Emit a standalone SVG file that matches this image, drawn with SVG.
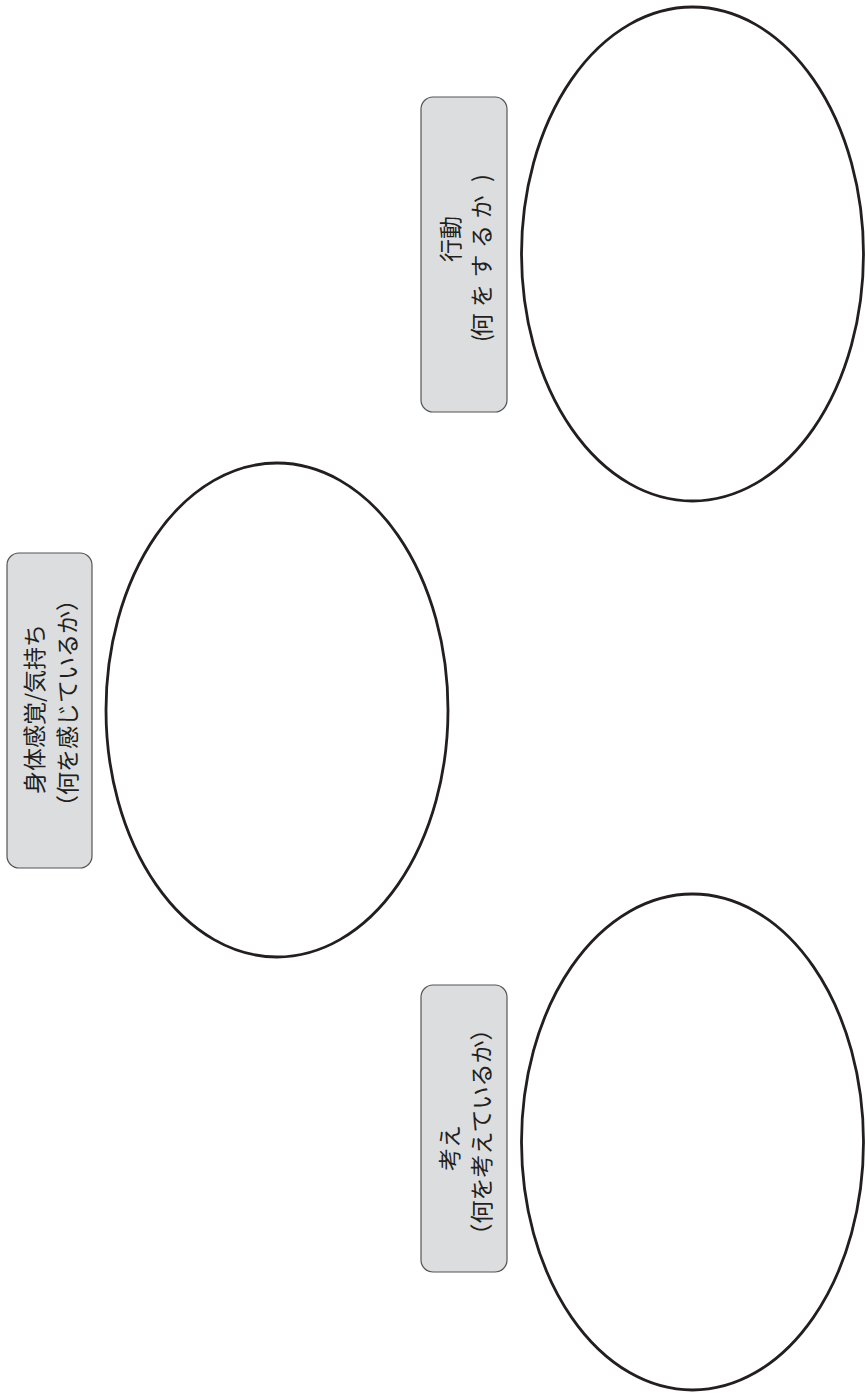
<svg xmlns="http://www.w3.org/2000/svg" width="866" height="1395" viewBox="0 0 866 1395">
<style>
.box{fill:#dcdddf;stroke:#555;stroke-width:1.2}
.ell{fill:#fff;stroke:#231f20;stroke-width:2.8}
.t{font-family:"Noto Sans CJK JP","Noto Sans",sans-serif;font-size:23px;fill:#231f20;text-anchor:middle;dominant-baseline:central}
</style>
<rect width="866" height="1395" fill="#fff"/>
<g id="connectors"></g>
<g id="node-action">
<rect class="box" x="421" y="97" width="86" height="315" rx="12"/>
<g transform="translate(464,254.5) rotate(-90)">
<text class="t" x="15.5" y="-15.5">行動</text>
<text class="t" x="-83.5 -70.5 -41 -11.5 18 47.5 76.5" y="16">(何をするか)</text>
</g>
</g>
<g id="ellipse-action"><ellipse class="ell" cx="692.5" cy="254" rx="171" ry="247"/></g>
<g id="node-feeling">
<rect class="box" x="7" y="553" width="85" height="315" rx="12"/>
<g transform="translate(49.5,710.5) rotate(-90)">
<text class="t" x="1.5" y="-17">身体感覚/気持ち</text>
<text class="t" x="7.5" y="16">（何を感じているか）</text>
</g>
</g>
<g id="ellipse-feeling"><ellipse class="ell" cx="277" cy="710" rx="171" ry="247"/></g>
<g id="node-thought">
<rect class="box" x="421" y="985" width="86" height="287" rx="12"/>
<g transform="translate(464,1128.5) rotate(-90)">
<text class="t" x="-19.5" y="-16">考え</text>
<text class="t" x="-3.5" y="16">（何を考えているか）</text>
</g>
</g>
<g id="ellipse-thought"><ellipse class="ell" cx="692.5" cy="1142" rx="171" ry="248"/></g>
</svg>
